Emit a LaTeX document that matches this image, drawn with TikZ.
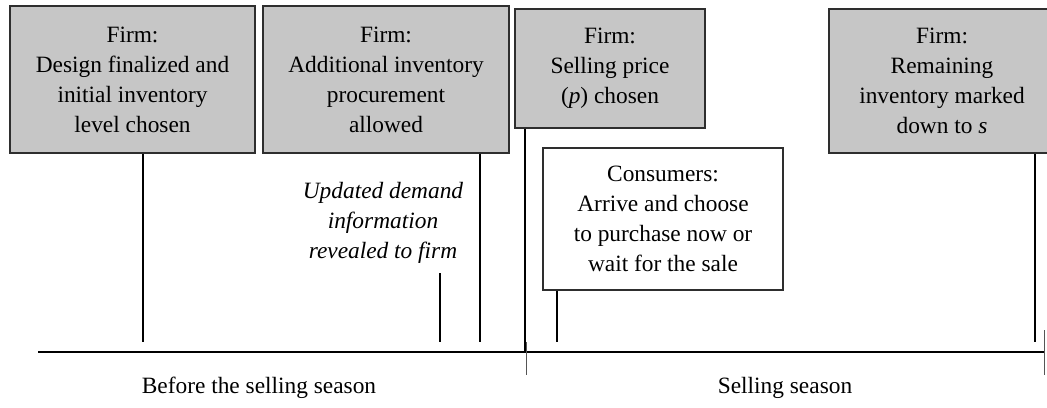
\documentclass[tikz,border=0pt]{standalone}
\usepackage{fontspec}
\setmainfont{Liberation Serif}
\usetikzlibrary{positioning}
\definecolor{boxgray}{HTML}{C6C6C6}
\definecolor{edge}{HTML}{2E2E2E}
\definecolor{tickgray}{HTML}{555555}
\tikzset{firmbox/.style={draw=edge,line width=0.6pt,fill=boxgray,align=center,inner sep=0pt},
  buyerbox/.style={firmbox,fill=white},
  event/.style={line width=1.1pt},
  divide/.style={line width=0.5pt,draw=tickgray}}

\begin{document}
\begin{tikzpicture}[font=\fontsize{13.3}{17.1}\selectfont]
\useasboundingbox (0,0) rectangle (20.94,8.14);
% decision boxes above the time line
\node[firmbox,minimum width=4.90cm,minimum height=2.94cm] (design) at (2.65,6.55) {Firm:\\Design finalized and\\initial inventory\\level chosen};
\node[firmbox,minimum width=4.92cm,minimum height=2.94cm] (procure) at (7.72,6.55) {Firm:\\Additional inventory\\procurement\\allowed};
\node[firmbox,minimum width=3.80cm,minimum height=2.38cm] (price) at (12.20,6.77) {Firm:\\Selling price\\(\textit{p}) chosen};
\node[firmbox,minimum width=4.52cm,minimum height=2.88cm] (markdown) at (18.84,6.52) {Firm:\\Remaining\\inventory marked\\down to \textit{s}};
\node[buyerbox,minimum width=4.80cm,minimum height=2.84cm] (buyers) at (13.26,3.76) {Consumers:\\Arrive and choose\\to purchase now or\\wait for the sale};
\node[align=center,font=\fontsize{13.3}{17.1}\selectfont\itshape] (update) at (7.66,3.68) {Updated demand\\information\\revealed to firm};
% time line
\coordinate (start) at (0.76,1.10);
\coordinate (stop) at (20.88,1.10);
\coordinate (season) at (10.52,1.10);
\draw[line width=1pt] (start) -- (stop);
\draw[divide] ([yshift=0.2cm]season) -- ([yshift=-0.46cm]season);
\draw[divide] ([yshift=0.44cm]stop) -- ([yshift=-0.46cm]stop);
% event marks
\coordinate (t1) at (2.86,1.30);
\coordinate (t2) at (8.80,1.30);
\coordinate (t3) at (9.60,1.30);
\coordinate (t4) at (10.50,1.30);
\coordinate (t5) at (11.14,1.30);
\coordinate (t6) at (20.70,1.30);
\draw[event] (t1 |- design.south) -- (t1);
\draw[event] (t2 |- 0,2.68) -- (t2);
\draw[event] (t3 |- procure.south) -- (t3);
\draw[event,line width=1.6pt] (t4 |- price.south) -- ([yshift=-0.2cm]t4);
\draw[event] (t5 |- buyers.south) -- (t5);
\draw[event] (t6 |- markdown.south) -- (t6);
% periods
\node (before) at (5.18,0.38) {Before the selling season};
\node (during) at (15.70,0.38) {Selling season};
\end{tikzpicture}
\end{document}
